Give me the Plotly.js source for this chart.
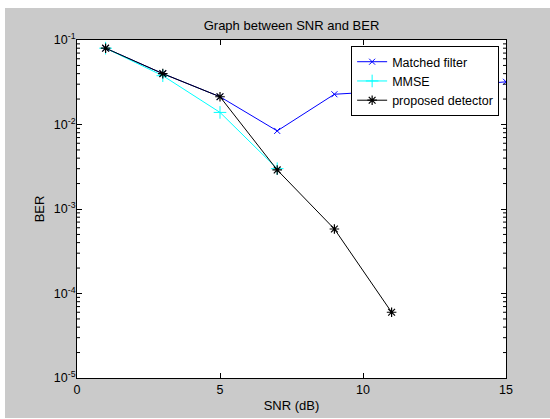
<!DOCTYPE html>
<html>
<head>
<meta charset="utf-8">
<script src="https://cdn.plot.ly/plotly-3.0.1.min.js"></script>
<style>
html,body{margin:0;padding:0;background:#ffffff;width:550px;height:419px;overflow:hidden;}
#chart{position:absolute;left:5px;top:8px;width:545px;height:410px;}
</style>
</head>
<body>
<div id="chart"></div>
<script>
// Data
var snr_matched = [1, 3, 5, 7, 9, 11, 13, 15];
var ber_matched = [0.080, 0.040, 0.0213, 0.0084, 0.0228, 0.025, 0.028, 0.032];

var snr_mmse = [1, 3, 5, 7];
var ber_mmse = [0.080, 0.0378, 0.0139, 0.0030];

var snr_proposed = [1, 3, 5, 7, 9, 11];
var ber_proposed = [0.080, 0.040, 0.0213, 0.0029, 0.00058, 0.000060];

var xTickVals = [0, 5, 10, 15];
var xTickText = ['0', '5', '10', '15'];
var yTickVals = [1e-5, 1e-4, 1e-3, 1e-2, 1e-1];
var yTickText = ['10<sup>-5</sup>', '10<sup>-4</sup>', '10<sup>-3</sup>', '10<sup>-2</sup>', '10<sup>-1</sup>'];
var yDecades = [-5, -4, -3, -2];
var yMantissas = [2, 3, 4, 5, 6, 7, 8, 9];

// minor log ticks (2..9 within each decade), drawn on both vertical sides of the box
var minorLen = 3 / 429;
var shapes = [];
yDecades.forEach(function (d) {
  yMantissas.forEach(function (m) {
    var v = m * Math.pow(10, d);
    shapes.push({type: 'line', xref: 'paper', yref: 'y', x0: 0, x1: minorLen, y0: v, y1: v,
      line: {color: '#000000', width: 1}});
    shapes.push({type: 'line', xref: 'paper', yref: 'y', x0: 1 - minorLen, x1: 1, y0: v, y1: v,
      line: {color: '#000000', width: 1}});
  });
});

var traces = [
  {
    x: snr_matched, y: ber_matched, name: 'Matched filter',
    type: 'scatter', mode: 'lines+markers',
    line: {color: '#0000ff', width: 1},
    marker: {symbol: 'x-thin-open', size: 6, color: '#0000ff', line: {color: '#0000ff', width: 1}}
  },
  {
    x: snr_mmse, y: ber_mmse, name: 'MMSE',
    type: 'scatter', mode: 'lines+markers',
    line: {color: '#00ffff', width: 1},
    marker: {symbol: 'cross-thin-open', size: 9, color: '#00ffff', line: {color: '#00ffff', width: 1}}
  },
  {
    x: snr_proposed, y: ber_proposed, name: 'proposed detector',
    type: 'scatter', mode: 'lines+markers',
    line: {color: '#000000', width: 1},
    marker: {symbol: 'asterisk-open', size: 8, color: '#000000', line: {color: '#000000', width: 1.2}}
  }
];

var fontFam = '"Liberation Sans", Arial, Helvetica, sans-serif';

var layout = {
  width: 545, height: 410,
  paper_bgcolor: '#cacaca',
  plot_bgcolor: '#ffffff',
  margin: {l: 72, r: 44, t: 32, b: 40, pad: 0},
  font: {family: fontFam, size: 13, color: '#000000'},
  shapes: shapes,
  title: {
    text: 'Graph between SNR and BER',
    font: {family: fontFam, size: 13, color: '#000000'},
    x: 0.5, xref: 'paper', xanchor: 'center',
    y: 0.957, yref: 'container', yanchor: 'middle', pad: {t: 0, b: 0}
  },
  showlegend: true,
  legend: {
    x: 0.984, xanchor: 'right', y: 0.982, yanchor: 'top',
    bgcolor: '#ffffff', bordercolor: '#000000', borderwidth: 1,
    font: {family: fontFam, size: 12.5, color: '#000000'},
    itemwidth: 30, tracegroupgap: 0
  },
  xaxis: {
    range: [0, 15], tickmode: 'array', tickvals: xTickVals, ticktext: xTickText,
    ticks: 'inside', ticklen: 5, tickcolor: '#000000', tickwidth: 1,
    showline: true, linecolor: '#000000', linewidth: 1, mirror: 'allticks',
    showgrid: false, zeroline: false,
    tickfont: {family: fontFam, size: 12.5, color: '#000000'},
    title: {text: 'SNR (dB)', font: {family: fontFam, size: 13, color: '#000000'}, standoff: 4}
  },
  yaxis: {
    type: 'log', range: [-5, -1], tickmode: 'array', tickvals: yTickVals, ticktext: yTickText,
    ticks: 'inside', ticklen: 5, tickcolor: '#000000', tickwidth: 1,
    showline: true, linecolor: '#000000', linewidth: 1, mirror: 'allticks',
    showgrid: false, zeroline: false,
    tickfont: {family: fontFam, size: 12.5, color: '#000000'},
    ticklabelstandoff: -2,
    title: {text: 'BER', font: {family: fontFam, size: 13, color: '#000000'}, standoff: 6}
  }
};

Plotly.newPlot('chart', traces, layout, {displayModeBar: false, staticPlot: true});
</script>
</body>
</html>
